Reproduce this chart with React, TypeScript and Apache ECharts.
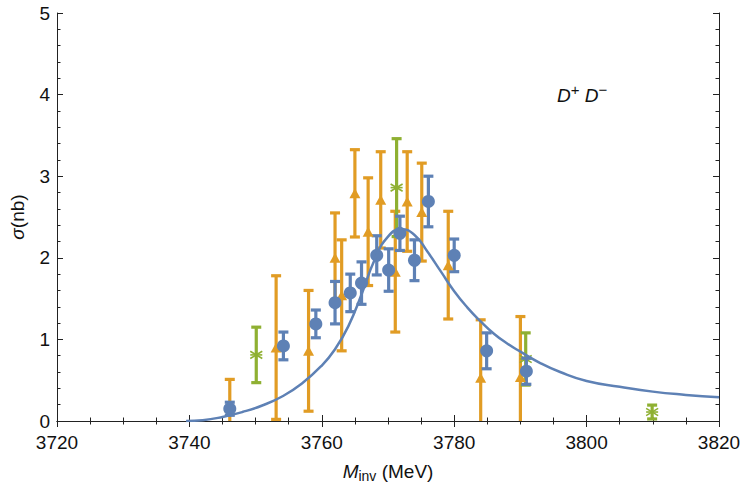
import React, { useEffect, useRef } from "react";
import * as echarts from "echarts";

// Cross-section measurements (MeV, nb) with symmetric errors
const blueMass = [3746.1, 3754.2, 3759.1, 3762.0, 3764.3, 3766.0, 3768.3, 3770.1, 3771.8, 3774.0, 3776.1, 3780.0, 3784.9, 3790.9];
const blueSigma = [0.15, 0.92, 1.19, 1.45, 1.57, 1.69, 2.03, 1.85, 2.3, 1.97, 2.69, 2.03, 0.86, 0.61];
const blueErr = [0.08, 0.17, 0.17, 0.26, 0.23, 0.26, 0.24, 0.26, 0.21, 0.25, 0.31, 0.2, 0.22, 0.16];

const orangeMass = [3746.1, 3753.1, 3758.0, 3762.0, 3763.0, 3765.0, 3767.0, 3768.9, 3771.1, 3772.9, 3775.1, 3779.1, 3784.0, 3790.0];
const orangeSigma = [0.17, 0.9, 0.86, 2.0, 1.54, 2.79, 2.32, 2.71, 1.83, 2.69, 2.56, 1.91, 0.53, 0.54];
const orangeErr = [0.34, 0.88, 0.74, 0.55, 0.68, 0.535, 0.66, 0.59, 0.74, 0.61, 0.6, 0.66, 0.71, 0.74];

const greenMass = [3750.1, 3771.3, 3790.8, 3809.9];
const greenSigma = [0.81, 2.86, 0.76, 0.11];
const greenErr = [0.34, 0.6, 0.32, 0.085];

// Fitted line shape
const curveMass = [3739.5, 3742, 3745, 3748, 3751, 3754, 3757, 3760, 3762, 3764, 3766, 3768, 3770, 3772, 3774, 3776, 3778, 3780, 3782, 3784, 3786, 3788, 3790, 3793, 3796, 3800, 3805, 3810, 3815, 3820];
const curveSigma = [0, 0.01, 0.05, 0.11, 0.19, 0.3, 0.46, 0.68, 0.88, 1.16, 1.55, 1.98, 2.26, 2.35, 2.28, 2.07, 1.83, 1.59, 1.39, 1.22, 1.07, 0.95, 0.85, 0.71, 0.6, 0.49, 0.42, 0.36, 0.32, 0.29];

const xTicks = [3720, 3740, 3760, 3780, 3800, 3820];
const yTicks = [0, 1, 2, 3, 4, 5];

const BLUE = "#5E81B5";
const ORANGE = "#E19C24";
const GREEN = "#8FB032";
const FRAME = "#222";
const FONT = "'Liberation Sans', Arial, sans-serif";

function errorBars(mass: number[], sigma: number[], err: number[]) {
  return mass.map((m, i) => [m, sigma[i] - err[i], sigma[i] + err[i], sigma[i]]);
}

function barRenderer(color: string, cap: number, width: number, star: boolean) {
  return (_params: any, api: any) => {
    const x = api.value(0);
    const top = api.coord([x, api.value(2)]);
    const bot = api.coord([x, api.value(1)]);
    const h = cap / 2;
    const style = { stroke: color, lineWidth: width };
    const children: any[] = [
      { type: "line", shape: { x1: top[0], y1: top[1], x2: bot[0], y2: bot[1] }, style },
      { type: "line", shape: { x1: top[0] - h, y1: top[1], x2: top[0] + h, y2: top[1] }, style },
      { type: "line", shape: { x1: bot[0] - h, y1: bot[1], x2: bot[0] + h, y2: bot[1] }, style },
    ];
    if (star) {
      const c = api.coord([x, api.value(3)]);
      const r = 6;
      const s = { stroke: color, lineWidth: 1.6 };
      children.push(
        { type: "line", shape: { x1: c[0] - r, y1: c[1] - r * 0.6, x2: c[0] + r, y2: c[1] + r * 0.6 }, style: s },
        { type: "line", shape: { x1: c[0] - r, y1: c[1] + r * 0.6, x2: c[0] + r, y2: c[1] - r * 0.6 }, style: s },
        { type: "line", shape: { x1: c[0] - r, y1: c[1], x2: c[0] + r, y2: c[1] }, style: s }
      );
    }
    return { type: "group", children };
  };
}

export default function App() {
  const ref = useRef<HTMLDivElement>(null);

  useEffect(() => {
    if (!ref.current) return;
    const chart = echarts.init(ref.current, null, { renderer: "svg" });

    const baseX = {
      type: "value" as const,
      min: xTicks[0],
      max: xTicks[xTicks.length - 1],
      interval: 20,
      axisLine: { show: true, lineStyle: { color: FRAME, width: 1 } },
      axisTick: { show: true, inside: true, length: 6, lineStyle: { color: FRAME } },
      minorTick: { show: true, splitNumber: 4, length: 3.5, lineStyle: { color: FRAME } },
      splitLine: { show: false },
    };
    const baseY = {
      type: "value" as const,
      min: yTicks[0],
      max: yTicks[yTicks.length - 1],
      interval: 1,
      axisLine: { show: true, lineStyle: { color: FRAME, width: 1 } },
      axisTick: { show: true, inside: true, length: 6, lineStyle: { color: FRAME } },
      minorTick: { show: true, splitNumber: 5, length: 3.5, lineStyle: { color: FRAME } },
      splitLine: { show: false },
    };

    chart.setOption({
      animation: false,
      backgroundColor: "#fff",
      textStyle: { fontFamily: FONT },
      grid: { left: 57, right: 25, top: 13, bottom: 75, containLabel: false },
      xAxis: [
        {
          ...baseX,
          position: "bottom",
          axisLabel: {
            color: "#111",
            fontSize: 19,
            lineHeight: 16,
            margin: 13,
            fontFamily: FONT,
            formatter: (v: number) => String(v),
          },
          name: "{i|M}{sub|inv}{n| (MeV)}",
          nameLocation: "middle",
          nameGap: 38,
          nameTextStyle: {
            rich: {
              i: { fontStyle: "italic", fontSize: 19, color: "#111", fontFamily: FONT },
              sub: { fontSize: 14, color: "#111", fontFamily: FONT, padding: [10, 0, 0, 0] },
              n: { fontSize: 19, color: "#111", fontFamily: FONT },
            },
          },
        },
        { ...baseX, position: "top", axisLabel: { show: false } },
      ],
      yAxis: [
        {
          ...baseY,
          position: "left",
          axisLabel: { color: "#111", fontSize: 19, lineHeight: 16, margin: 7, fontFamily: FONT },
          name: "{i|σ}{n|(nb)}",
          nameLocation: "middle",
          nameGap: 30,
          nameTextStyle: {
            rich: {
              i: { fontStyle: "italic", fontSize: 19, color: "#111", fontFamily: FONT },
              n: { fontSize: 19, color: "#111", fontFamily: FONT },
            },
          },
        },
        { ...baseY, position: "right", axisLabel: { show: false } },
      ],
      graphic: [
        {
          type: "text",
          left: 557,
          top: 82,
          style: {
            text: "{d|D}{s|+}{d| D}{s|−}",
            rich: {
              d: { fontStyle: "italic", fontSize: 19, fill: "#111", fontFamily: FONT },
              s: { fontSize: 15, fill: "#111", fontFamily: FONT, padding: [0, 0, 11, 0] },
            },
          },
        },
      ],
      series: [
        {
          type: "custom",
          clip: true,
          renderItem: barRenderer(ORANGE, 10, 3.2, false),
          data: errorBars(orangeMass, orangeSigma, orangeErr),
          encode: { x: 0, y: [1, 2] },
        },
        {
          type: "scatter",
          symbol: "triangle",
          symbolSize: [11, 10],
          itemStyle: { color: ORANGE, opacity: 1 },
          data: orangeMass.map((m, i) => [m, orangeSigma[i]]),
        },
        {
          type: "custom",
          clip: true,
          renderItem: barRenderer(GREEN, 10, 3.2, true),
          data: errorBars(greenMass, greenSigma, greenErr),
          encode: { x: 0, y: [1, 2] },
        },
        {
          type: "custom",
          clip: true,
          renderItem: barRenderer(BLUE, 10, 3.2, false),
          data: errorBars(blueMass, blueSigma, blueErr),
          encode: { x: 0, y: [1, 2] },
        },
        {
          type: "scatter",
          symbol: "circle",
          symbolSize: 13,
          itemStyle: { color: BLUE, opacity: 1 },
          data: blueMass.map((m, i) => [m, blueSigma[i]]),
        },
        {
          type: "line",
          smooth: 0.5,
          showSymbol: false,
          lineStyle: { color: BLUE, width: 2.5 },
          data: curveMass.map((m, i) => [m, curveSigma[i]]),
        },
      ],
    });

    return () => chart.dispose();
  }, []);

  return <div ref={ref} style={{ width: 744, height: 496, position: "absolute", left: 0, top: 0 }} />;
}
